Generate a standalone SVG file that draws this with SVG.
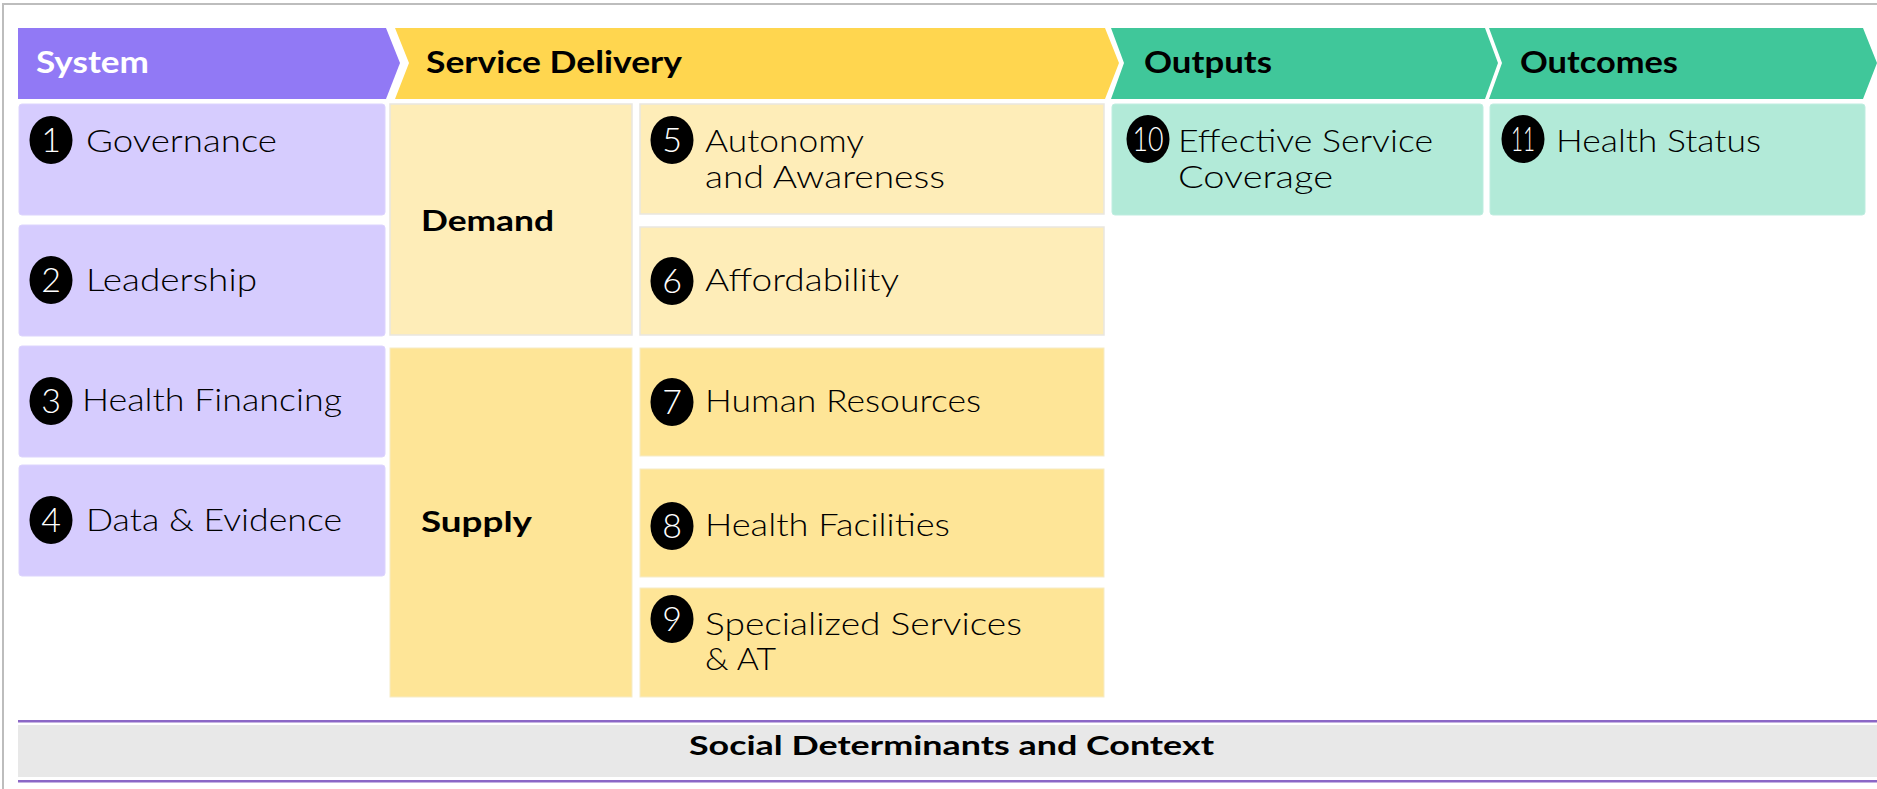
<svg xmlns="http://www.w3.org/2000/svg" width="1877" height="789" viewBox="0 0 1877 789">
<style>
.hdr{font-family:Lato,"Liberation Sans",sans-serif;font-weight:700;font-size:31px;fill:#000}
.txt{font-family:Lato,"Liberation Sans",sans-serif;font-weight:300;font-size:31px;fill:#000}
.num{font-family:Lato,"Liberation Sans",sans-serif;font-weight:300;font-size:34px;fill:#fff;text-anchor:middle}
.sub{font-family:Lato,"Liberation Sans",sans-serif;font-weight:700;font-size:29px;fill:#000}
.sys{fill:#D6CCFE;stroke:#DCD4FD;stroke-width:1}
.dem{fill:#FEEDB8;stroke:#E9E6E0;stroke-width:1.5}
.sup{fill:#FEE597;stroke:#F6EBC6;stroke-width:1}
.out{fill:#B2EAD8;stroke:#BFEDE0;stroke-width:1}
.dot{fill:#000}
</style>
<rect width="1877" height="789" fill="#fff"/>
<path d="M3,789 V4 H1877" fill="none" stroke="#BDBDBD" stroke-width="2"/>

<g id="hdr-system">
<polygon points="18,28 386,28 400,63 386,99 18,99" fill="#9179F5"/>
<text class="hdr" x="36" y="73" style="fill:#fff" textLength="113" lengthAdjust="spacingAndGlyphs">System</text>
</g>
<g id="hdr-service">
<polygon points="395,28 1105,28 1119,63 1105,99 395,99 409,63" fill="#FFD64F"/>
<text class="hdr" x="426" y="73" textLength="256" lengthAdjust="spacingAndGlyphs">Service Delivery</text>
</g>
<g id="hdr-outputs">
<polygon points="1111,28 1485,28 1498,63 1485,99 1111,99 1124,63" fill="#40C79A"/>
<text class="hdr" x="1144" y="73" textLength="128" lengthAdjust="spacingAndGlyphs">Outputs</text>
</g>
<g id="hdr-outcomes">
<polygon points="1489,28 1863,28 1877,63 1863,99 1489,99 1502,63" fill="#40C79A"/>
<text class="hdr" x="1520" y="73" textLength="158" lengthAdjust="spacingAndGlyphs">Outcomes</text>
</g>

<g id="n1">
<rect class="sys" x="19" y="104" width="366" height="111" rx="3"/>
<ellipse class="dot" cx="51" cy="140" rx="21.5" ry="24"/>
<text class="num" x="51" y="152">1</text>
<text class="txt" x="86" y="152" textLength="191" lengthAdjust="spacingAndGlyphs">Governance</text>
</g>
<g id="n2">
<rect class="sys" x="19" y="225" width="366" height="111" rx="3"/>
<ellipse class="dot" cx="51" cy="280" rx="21.5" ry="24"/>
<text class="num" x="51" y="292">2</text>
<text class="txt" x="86" y="291" textLength="171" lengthAdjust="spacingAndGlyphs">Leadership</text>
</g>
<g id="n3">
<rect class="sys" x="19" y="346" width="366" height="111" rx="3"/>
<ellipse class="dot" cx="51" cy="401" rx="21.5" ry="24"/>
<text class="num" x="51" y="413">3</text>
<text class="txt" x="82" y="411" textLength="260" lengthAdjust="spacingAndGlyphs">Health Financing</text>
</g>
<g id="n4">
<rect class="sys" x="19" y="465" width="366" height="111" rx="3"/>
<ellipse class="dot" cx="51" cy="520" rx="21.5" ry="24"/>
<text class="num" x="51" y="532">4</text>
<text class="txt" x="86" y="531" textLength="256" lengthAdjust="spacingAndGlyphs">Data &amp; Evidence</text>
</g>

<g id="demand">
<rect class="dem" x="390" y="104" width="242" height="231"/>
<text class="sub" x="421" y="231" textLength="133" lengthAdjust="spacingAndGlyphs">Demand</text>
</g>
<g id="supply">
<rect class="sup" x="390" y="348" width="242" height="349"/>
<text class="sub" x="421" y="532" textLength="111" lengthAdjust="spacingAndGlyphs">Supply</text>
</g>

<g id="n5">
<rect class="dem" x="640" y="104" width="464" height="110"/>
<ellipse class="dot" cx="672" cy="140" rx="21.5" ry="24"/>
<text class="num" x="672" y="152">5</text>
<text class="txt" x="705" y="152" textLength="159" lengthAdjust="spacingAndGlyphs">Autonomy</text>
<text class="txt" x="705" y="188" textLength="240" lengthAdjust="spacingAndGlyphs">and Awareness</text>
</g>
<g id="n6">
<rect class="dem" x="640" y="227" width="464" height="108"/>
<ellipse class="dot" cx="672" cy="281" rx="21.5" ry="24"/>
<text class="num" x="672" y="293">6</text>
<text class="txt" x="705" y="291" textLength="194" lengthAdjust="spacingAndGlyphs">Affordability</text>
</g>
<g id="n7">
<rect class="sup" x="640" y="348" width="464" height="108"/>
<ellipse class="dot" cx="672" cy="402" rx="21.5" ry="24"/>
<text class="num" x="672" y="414">7</text>
<text class="txt" x="705" y="412" textLength="276" lengthAdjust="spacingAndGlyphs">Human Resources</text>
</g>
<g id="n8">
<rect class="sup" x="640" y="469" width="464" height="108"/>
<ellipse class="dot" cx="672" cy="526" rx="21.5" ry="24"/>
<text class="num" x="672" y="538">8</text>
<text class="txt" x="705" y="536" textLength="245" lengthAdjust="spacingAndGlyphs">Health Facilities</text>
</g>
<g id="n9">
<rect class="sup" x="640" y="588" width="464" height="109"/>
<ellipse class="dot" cx="672" cy="619" rx="21.5" ry="24"/>
<text class="num" x="672" y="631">9</text>
<text class="txt" x="705" y="635" textLength="317" lengthAdjust="spacingAndGlyphs">Specialized Services</text>
<text class="txt" x="705" y="670" textLength="71" lengthAdjust="spacingAndGlyphs">&amp; AT</text>
</g>

<g id="n10">
<rect class="out" x="1112" y="104" width="371" height="111" rx="3"/>
<ellipse class="dot" cx="1148" cy="139" rx="21.5" ry="24"/>
<text class="num" x="1148" y="151" textLength="31" lengthAdjust="spacingAndGlyphs">10</text>
<text class="txt" x="1178" y="152" textLength="255" lengthAdjust="spacingAndGlyphs">Effective Service</text>
<text class="txt" x="1178" y="188" textLength="155" lengthAdjust="spacingAndGlyphs">Coverage</text>
</g>
<g id="n11">
<rect class="out" x="1490" y="104" width="375" height="111" rx="3"/>
<ellipse class="dot" cx="1523" cy="139" rx="21.5" ry="24"/>
<text class="num" x="1523" y="151" textLength="24" lengthAdjust="spacingAndGlyphs">11</text>
<text class="txt" x="1556" y="152" textLength="205" lengthAdjust="spacingAndGlyphs">Health Status</text>
</g>

<g id="context">
<rect x="18" y="725" width="1859" height="52" fill="#E8E8E8"/>
<line x1="18" y1="721.2" x2="1877" y2="721.2" stroke="#8B67C6" stroke-width="2.6"/>
<line x1="18" y1="781.3" x2="1877" y2="781.3" stroke="#8B67C6" stroke-width="2.6"/>
<text class="sub" x="689" y="755" style="font-size:27px" textLength="525" lengthAdjust="spacingAndGlyphs">Social Determinants and Context</text>
</g>
<g id="connectors"/>
</svg>
